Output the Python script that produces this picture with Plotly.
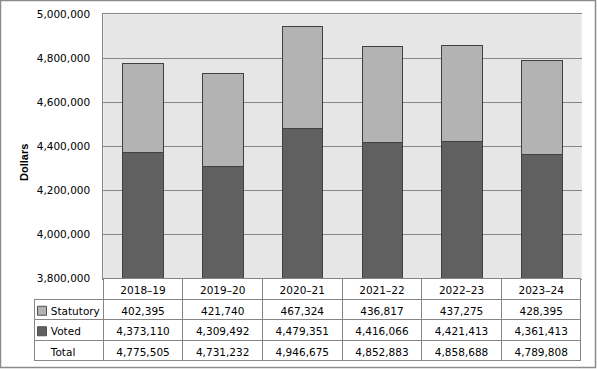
import plotly.graph_objects as go

years = ["2018–19", "2019–20", "2020–21", "2021–22", "2022–23", "2023–24"]
statutory = [402395, 421740, 467324, 436817, 437275, 428395]
voted = [4373110, 4309492, 4479351, 4416066, 4421413, 4361413]
total = [4775505, 4731232, 4946675, 4852883, 4858688, 4789808]
row_labels = ["Statutory", "Voted", "Total"]
y_range = [3800000, 5000000]
y_step = 200000

C_STAT = "#b3b3b3"
C_VOTED = "#606060"
C_EDGE = "#404040"
C_GRID = "#868686"
FONT = "DejaVu Sans"
W, H = 597, 369

# layout geometry (px)
px_left, px_right, px_top, px_bottom = 103.3, 581.7, 14.3, 278.5
tbl_left = 34.0
row_h = 20.5

fig = go.Figure()
fig.add_trace(go.Bar(x=years, y=voted, name="Voted",
                     marker=dict(color=C_VOTED, line=dict(color=C_EDGE, width=1))))
fig.add_trace(go.Bar(x=years, y=statutory, name="Statutory",
                     marker=dict(color=C_STAT, line=dict(color=C_EDGE, width=1))))

def fmt(v):
    return f"{v:,}"

pad = "\u00a0\u00a0\u202f"
label_col = [pad + lab for lab in row_labels]
cols = [label_col] + [[fmt(s), fmt(v), fmt(t)] for s, v, t in zip(statutory, voted, total)]

col_w = [px_left - tbl_left] + [(px_right - px_left) / 6] * 6
fig.add_trace(go.Table(
    domain=dict(x=[tbl_left / W, px_right / W], y=[0, (H - px_bottom) / H]),
    columnwidth=col_w,
    header=dict(values=[""] + years, height=row_h,
                fill=dict(color=["rgba(0,0,0,0)"] + ["white"] * 6),
                line=dict(color=["rgba(0,0,0,0)"] + [C_GRID] * 6, width=1),
                align="center", font=dict(family=FONT, size=10.5, color="black")),
    cells=dict(values=cols, height=row_h,
               fill=dict(color="white"),
               line=dict(color=C_GRID, width=1),
               align=["left"] + ["center"] * 6,
               font=dict(family=FONT, size=10.5, color="black")),
))

# legend keys inside the table's label column
key_colors = [C_STAT, C_VOTED]
shapes = [dict(type="rect", xref="paper", yref="paper", x0=0.5 / W, x1=595.5 / W,
               y0=1 - 367.5 / H, y1=1 - 0.5 / H, line=dict(color="#8c8c8c", width=1.5),
               layer="above")]
for i, c in enumerate(key_colors):
    yc = px_bottom + 1.5 + row_h * (1.5 + i)
    shapes.append(dict(type="rect", xref="paper", yref="paper",
                       x0=37.5 / W, x1=46.5 / W, y0=1 - (yc + 4.5) / H, y1=1 - (yc - 4.5) / H,
                       fillcolor=c, line=dict(color="#505050", width=1), layer="above"))

annotations = [dict(text="<b>Dollars</b>", textangle=-90, xref="paper", yref="paper",
                    x=24 / W, y=1 - 163 / H, xanchor="center", yanchor="middle",
                    showarrow=False,
                    font=dict(family="Liberation Sans", size=11, color="black"))]

fig.update_layout(
    width=W, height=H,
    margin=dict(l=0, r=0, t=0, b=0, pad=0, autoexpand=False),
    barmode="stack", bargap=0.49,
    showlegend=False,
    paper_bgcolor="white", plot_bgcolor="#e6e6e6",
    font=dict(family=FONT, size=10.5, color="black"),
    xaxis=dict(domain=[px_left / W, px_right / W], showticklabels=False, showgrid=False,
               showline=True, mirror=True, linecolor=C_GRID, linewidth=1, ticks=""),
    yaxis=dict(domain=[(H - px_bottom) / H, (H - px_top) / H], range=y_range, dtick=y_step,
               tickformat=",d", showgrid=True, gridcolor=C_GRID, gridwidth=1,
               showline=True, linecolor=C_GRID, linewidth=1, zeroline=False,
               ticks="outside", ticklen=10, tickcolor="rgba(0,0,0,0)",
               tickfont=dict(family=FONT, size=10.5, color="black")),
    annotations=annotations,
    shapes=shapes,
)

fig.write_html("out.html", config={"displayModeBar": False},
               post_script="document.body.style.margin='0';document.body.style.overflow='hidden';")
